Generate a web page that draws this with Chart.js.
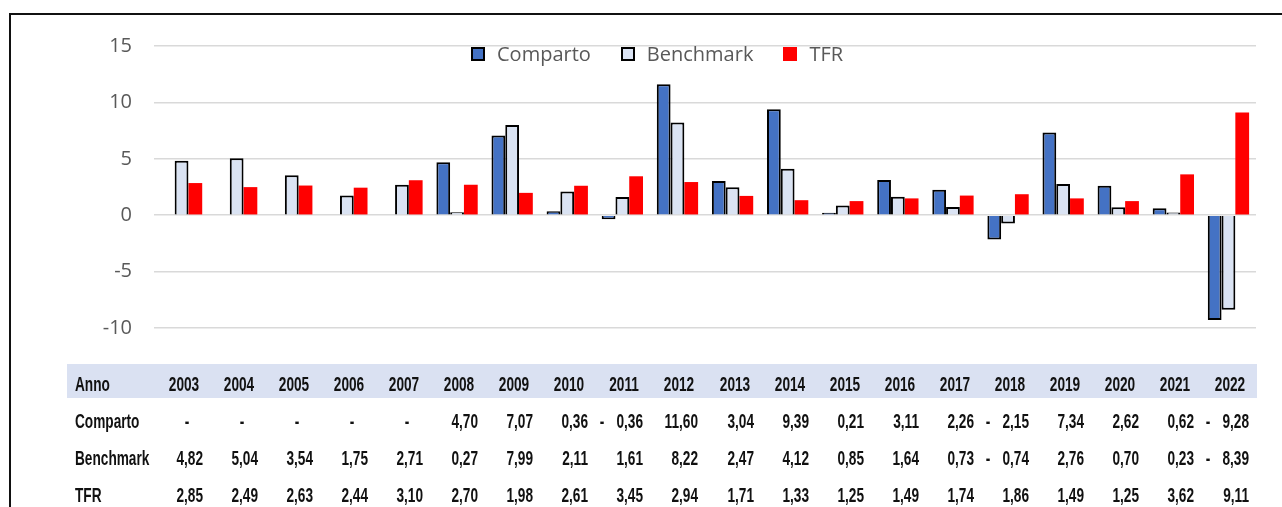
<!DOCTYPE html>
<html>
<head>
<meta charset="utf-8">
<script src="https://cdn.jsdelivr.net/npm/chart.js@4"></script>
<style>
  html, body { margin: 0; padding: 0; background: #fff; }
  #wrap { position: relative; width: 1282px; height: 507px; overflow: hidden; background: #fff; }
  #frame { position: absolute; left: 9px; top: 13px; width: 1400px; height: 600px; border-top: 2px solid #111; border-left: 2px solid #111; }
  #c { position: absolute; left: 0; top: 0; }
  #legend { position: absolute; left: 471px; top: 40px; display: flex; align-items: center; font: 20px "Open Sans", sans-serif; color: #595959; white-space: nowrap; }
  #legend .item { display: flex; align-items: center; margin-right: 30px; }
  #legend .box { width: 14px; height: 14px; box-sizing: border-box; margin-right: 12px; }
  #band { position: absolute; left: 67px; top: 364px; width: 1190px; height: 34px; background: #DAE1F2; }
  #table span { position: absolute; height: 24px; line-height: 24px; font: bold 21px "Liberation Sans", Arial, sans-serif; color: #111; white-space: nowrap; transform: scaleX(0.65); }
</style>
</head>
<body>
<div id="wrap">
  <div id="frame"></div>
  <div id="band"></div>
  <canvas id="c" width="1282" height="507"></canvas>
  <div id="legend"></div>
  <div id="table"></div>
</div>
<script>
const years = ['2003', '2004', '2005', '2006', '2007', '2008', '2009', '2010', '2011', '2012',
  '2013', '2014', '2015', '2016', '2017', '2018', '2019', '2020', '2021', '2022'];
const comparto = [null, null, null, null, null, 4.70, 7.07, 0.36, -0.36, 11.60,
  3.04, 9.39, 0.21, 3.11, 2.26, -2.15, 7.34, 2.62, 0.62, -9.28];
const benchmark = [4.82, 5.04, 3.54, 1.75, 2.71, 0.27, 7.99, 2.11, 1.61, 8.22,
  2.47, 4.12, 0.85, 1.64, 0.73, -0.74, 2.76, 0.70, 0.23, -8.39];
const tfr = [2.85, 2.49, 2.63, 2.44, 3.10, 2.70, 1.98, 2.61, 3.45, 2.94,
  1.71, 1.33, 1.25, 1.49, 1.74, 1.86, 1.49, 1.25, 3.62, 9.11];
const yTicks = [-10, -5, 0, 5, 10, 15];

const grey = '#595959';
const fmt = (v) => Math.abs(v).toFixed(2).replace('.', ',');

// tabella dati sotto il grafico, allineata alle categorie dell'asse x
const tablePlugin = {
  id: 'dataTable',
  afterRender(chart) {
    const box = document.getElementById('table');
    if (box.childElementCount) return;
    const x = chart.scales.x;
    const rows = [
      { label: 'Anno', values: years, y: 383.5 },
      { label: 'Comparto', values: comparto, y: 420.5 },
      { label: 'Benchmark', values: benchmark, y: 457.5 },
      { label: 'TFR', values: tfr, y: 494.5 },
    ];
    const add = (text, left, top, w, align) => {
      const s = document.createElement('span');
      s.textContent = text;
      s.style.left = left + 'px'; s.style.top = top + 'px';
      s.style.width = w + 'px'; s.style.textAlign = align;
      s.style.transformOrigin = align + ' center';
      box.appendChild(s);
    };
    rows.forEach((r, ri) => {
      const top = r.y - 12;
      add(r.label, 75, top, 160, 'left');
      r.values.forEach((v, i) => {
        const cx = x.getPixelForValue(i);
        if (ri === 0) { add(v, cx + 2 - 40, top, 80, 'center'); return; }
        if (v === null) { add('-', cx + 5 - 10, top, 20, 'center'); return; }
        if (v < 0) add('-', cx - 20 - 10, top, 20, 'center');
        add(fmt(v), cx + 21 - 80, top, 80, 'right');
      });
    });
  },
};

const chart = new Chart(document.getElementById('c'), {
  type: 'bar',
  data: {
    labels: years,
    datasets: [
      { label: 'Comparto', data: comparto, backgroundColor: '#4472C4', borderColor: '#000', borderWidth: 2 },
      { label: 'Benchmark', data: benchmark, backgroundColor: '#DAE3F3', borderColor: '#000', borderWidth: 2 },
      { label: 'TFR', data: tfr, backgroundColor: '#FF0000', borderWidth: 0 },
    ],
  },
  options: {
    responsive: false,
    animation: false,
    datasets: { bar: { categoryPercentage: 0.75, barPercentage: 1 } },
    layout: { padding: { left: 0, right: 26, top: 46, bottom: 179 } },
    plugins: { legend: { display: false }, tooltip: { enabled: false } },
    scales: {
      x: { display: false },
      y: {
        min: yTicks[0], max: yTicks[yTicks.length - 1],
        afterFit: (s) => { s.width = 154; },
        afterBuildTicks: (s) => { s.ticks = yTicks.map((v) => ({ value: v })); },
        border: { display: false },
        grid: { color: '#D9D9D9', lineWidth: 1.5, drawTicks: false },
        ticks: { color: grey, padding: 22, font: { family: 'Open Sans', size: 20 } },
      },
    },
  },
  plugins: [tablePlugin],
});

// legenda html dai dataset del grafico
const legend = document.getElementById('legend');
chart.data.datasets.forEach((ds) => {
  const item = document.createElement('div');
  item.className = 'item';
  const b = document.createElement('div');
  b.className = 'box';
  b.style.background = ds.backgroundColor;
  if (ds.borderWidth) b.style.border = '2px solid #000';
  const t = document.createElement('span');
  t.textContent = ds.label;
  item.appendChild(b); item.appendChild(t);
  legend.appendChild(item);
});
</script>
</body>
</html>
